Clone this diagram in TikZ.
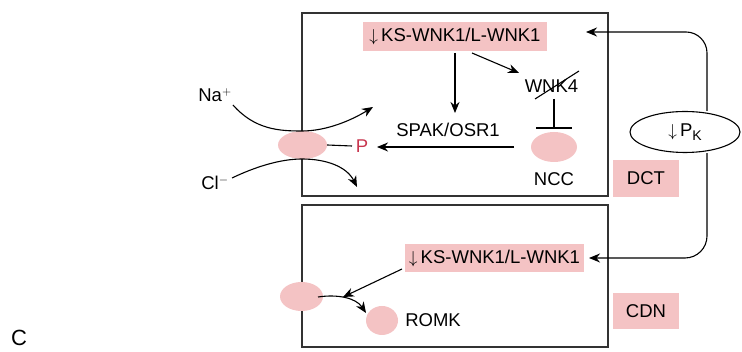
\documentclass[tikz,border=0pt]{standalone}
\usepackage{fontspec}
\setmainfont{Liberation Sans}
\usetikzlibrary{arrows.meta,shapes.geometric}
\definecolor{pinkfill}{HTML}{F4C3C4}
\definecolor{pred}{HTML}{C8364F}
\definecolor{boxline}{HTML}{333333}
\newcommand{\subK}{\raisebox{-0.4ex}{\fontsize{14}{14}\selectfont K}}
\begin{document}
\begin{tikzpicture}[x=1pt,y=-1pt,
  every node/.style={font=\fontsize{18.5}{21}\selectfont, inner sep=0pt},
  panel/.style={draw=boxline, line width=1.3pt, rectangle},
  pinkbox/.style={fill=pinkfill, rectangle},
  blob/.style={fill=pinkfill, ellipse},
  arr/.style={line width=1.1pt, -{Stealth[length=11pt,width=9pt,inset=3.5pt]}},
  plain/.style={line width=1.1pt}
]
\useasboundingbox (0,0) rectangle (742,352);

% panels
\node[panel, minimum width=306pt, minimum height=183pt] (upper) at (455,104.5) {};
\node[panel, minimum width=306pt, minimum height=142pt] (lower) at (455,276) {};

% upper panel content
\node[pinkbox, minimum width=184pt, minimum height=29pt] (ks1) at (455,36.5) {$\downarrow$\,KS-WNK1/L-WNK1};
\node (spak) at (448,130) {SPAK/OSR1};
\node (wnk4) at (551.5,86) {WNK4};
\node[blob, minimum width=46pt, minimum height=30pt] (ncc) at (554,147) {};
\node (ncclab) at (554,179) {NCC};
\node[blob, minimum width=49pt, minimum height=28pt] (cotr) at (302.5,145) {};
\node[text=pred] (p) at (362,146) {P};
\node (na) at (215,95) {Na$^{+}$};
\node (cl) at (215,183) {Cl$^{-}$};

% lower panel content
\node[pinkbox, minimum width=179pt, minimum height=28pt] (ks2) at (494.5,258) {$\downarrow$\,KS-WNK1/L-WNK1};
\node[blob, minimum width=43pt, minimum height=29pt] (chan) at (301.5,296.5) {};
\node[blob, minimum width=32pt, minimum height=29pt] (romk) at (382,320.5) {};
\node (romklab) at (433,320.5) {ROMK};

% side labels
\node[pinkbox, minimum width=66pt, minimum height=37pt] (dct) at (646,178.5) {DCT};
\node[pinkbox, minimum width=66pt, minimum height=36pt] (cdn) at (646,311) {CDN};
\node[draw, ellipse, line width=1.1pt, minimum width=110pt, minimum height=41pt] (pk) at (685,132) {$\downarrow$\,P\subK};
\node[font=\fontsize{22}{24}\selectfont] (c) at (19,338) {C};

% coordinates
\coordinate (ks1s) at (455,53);
\coordinate (spakn) at (455,113);
\coordinate (ks1e) at (472,53);
\coordinate (wnk4w) at (519,73);
\coordinate (inhtop) at (554,99);
\coordinate (inhbot) at (554,128);
\coordinate (barl) at (536,128);
\coordinate (barr) at (572,128);
\coordinate (strA) at (535,99);
\coordinate (strB) at (579,71);
\coordinate (nccw) at (514,147);
\coordinate (ptip) at (377,147);
\coordinate (pline) at (352,146);
\coordinate (nastart) at (233,105);
\coordinate (naend) at (373,107);
\coordinate (clstart) at (232,178);
\coordinate (clend) at (357,187);
\coordinate (fbtop) at (586,32);
\coordinate (fbbot) at (589,258);
\coordinate (ks2w) at (402,269);
\coordinate (chantip) at (343,297);
\coordinate (chane) at (318,297);
\coordinate (romktip) at (366,313);

% upper connectors
\draw[arr] (ks1s) -- (spakn);
\draw[arr] (ks1e) -- (wnk4w);
\draw[plain] (strA) -- (strB);
\draw[plain] (inhtop) -- (inhbot);
\draw[plain] (barl) -- (barr);
\draw[arr] (nccw) -- (ptip);
\draw[plain] (cotr.east) -- (pline);
\draw[arr] (nastart) .. controls (255,130) and (280,131) .. (302,131) .. controls (327,131) and (352,120) .. (naend);
\draw[arr] (clstart) .. controls (255,167) and (280,159) .. (302,159) .. controls (327,159) and (347,167) .. (clend);

% feedback
\draw[arr, rounded corners=21pt] (pk.north -| 707,0) -- (707,32) -- (fbtop);
\draw[arr, rounded corners=22pt] (pk.south -| 707,0) -- (707,258) -- (fbbot);

% lower connectors
\draw[arr] (ks2w) -- (chantip);
\draw[arr] (chane) .. controls (338,294) and (356,298) .. (romktip);
\end{tikzpicture}
\end{document}
